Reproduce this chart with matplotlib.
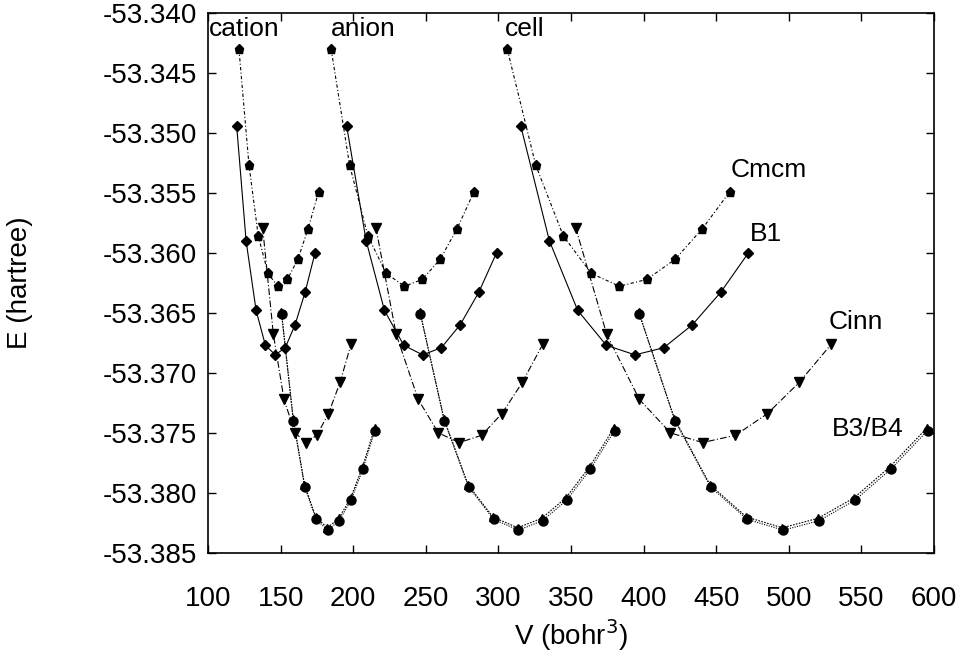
import matplotlib
matplotlib.use("Agg")
import matplotlib.pyplot as plt

plt.rcParams["font.family"] = ["Liberation Sans", "DejaVu Sans"]
plt.rcParams["axes.unicode_minus"] = False

# energies (hartree), shared by the cation / anion / cell volume sets
E_cmcm = [-53.34305, -53.35270, -53.35860, -53.36172, -53.36278, -53.36222, -53.36055, -53.35800, -53.35490]
E_b1 = [-53.3494, -53.3590, -53.3648, -53.3677, -53.3685, -53.3679, -53.3660, -53.3633, -53.3600]
E_cinn = [-53.3579, -53.3668, -53.3722, -53.3750, -53.3758, -53.3752, -53.3734, -53.3708, -53.3676]
E_b3 = [-53.3651, -53.3740, -53.3795, -53.3822, -53.3831, -53.3823, -53.3806, -53.3780, -53.3748]
E_b4 = [-53.3649, -53.3738, -53.3793, -53.3820, -53.3829, -53.3821, -53.3804, -53.3778, -53.3746]

# volumes (bohr^3)
V_cmcm = {
    "cation": [121.3, 128.2, 134.6, 141.3, 148.0, 154.6, 161.8, 168.9, 176.2],
    "anion": [184.8, 197.5, 210.1, 222.7, 235.3, 247.5, 259.8, 271.5, 283.2],
    "cell": [306.1, 325.7, 344.7, 364.0, 383.3, 402.1, 421.6, 440.4, 459.4],
}
V_b1 = {
    "cation": [119.7, 126.2, 133.1, 139.5, 146.3, 153.2, 159.9, 166.8, 173.7],
    "anion": [195.4, 208.9, 221.5, 234.8, 247.8, 260.7, 273.6, 286.4, 298.7],
    "cell": [315.3, 335.1, 354.6, 374.3, 394.1, 413.9, 433.5, 453.0, 472.2],
}
V_cinn = {
    "cation": [137.6, 145.0, 152.3, 159.9, 167.5, 174.9, 182.9, 190.9, 198.5],
    "anion": [215.6, 229.6, 244.7, 258.6, 273.1, 288.4, 302.3, 316.4, 330.6],
    "cell": [353.2, 374.6, 397.0, 418.5, 440.6, 463.2, 485.2, 507.1, 529.3],
}
V_b3 = {
    "cation": [150.7, 158.8, 166.6, 174.4, 182.4, 190.4, 198.5, 206.7, 214.9],
    "anion": [246.3, 262.8, 279.5, 296.7, 313.8, 330.4, 347.0, 363.4, 380.0],
    "cell": [397.0, 421.6, 446.1, 471.3, 496.2, 521.0, 545.6, 570.4, 595.6],
}
V_b4 = {
    "cation": [150.5, 158.6, 166.4, 174.2, 182.2, 190.2, 198.3, 206.5, 214.7],
    "anion": [245.9, 262.4, 279.0, 296.2, 313.3, 329.9, 346.5, 362.9, 379.5],
    "cell": [396.6, 421.2, 445.6, 470.8, 495.6, 520.4, 545.0, 569.8, 595.0],
}

XTICKS = [100, 150, 200, 250, 300, 350, 400, 450, 500, 550, 600]
YTICKS = [-53.385, -53.380, -53.375, -53.370, -53.365, -53.360, -53.355, -53.350, -53.345, -53.340]

FS = 20

fig = plt.figure(figsize=(9.69, 6.57), dpi=100)
ax = fig.add_axes([0.2147, 0.1583, 0.7492, 0.8224])

styles = [
    (V_cmcm, E_cmcm, dict(ls=(0, (3, 2, 1, 2)), marker="p", ms=6.5)),
    (V_b1, E_b1, dict(ls="-", marker="D", ms=5)),
    (V_cinn, E_cinn, dict(ls=(0, (6, 2, 1, 2)), marker="v", ms=6.5)),
    (V_b3, E_b3, dict(ls=(0, (1, 1.2)), marker="o", ms=6.5)),
    (V_b4, E_b4, dict(ls=(0, (1.5, 1.2)), marker="^", ms=5.5)),
]
for V, E, st in styles:
    for grp in ["cation", "anion", "cell"]:
        ax.plot(V[grp], E, color="black", lw=0.8, mec="black", mfc="black", **st)

ax.set_xlim(100, 600)
ax.set_ylim(-53.385, -53.340)
ax.set_xticks(XTICKS)
ax.set_yticks(YTICKS)
ax.set_yticklabels([f"{v:.3f}" for v in YTICKS])
ax.tick_params(direction="in", length=6, width=1, labelsize=FS, top=True, right=True)
ax.tick_params(axis="y", pad=8)
ax.tick_params(axis="x", pad=24)
for s in ax.spines.values():
    s.set_linewidth(1.2)

ax.set_xlabel("V (bohr$^3$)", fontsize=FS, va="center")
ax.set_ylabel("E (hartree)", fontsize=FS, va="center")
ax.xaxis.set_label_coords(0.5, -0.152)
ax.yaxis.set_label_coords(-0.259, 0.5)

ax.text(100.5, -53.3414, "cation", fontsize=FS - 1, va="center", ha="left")
ax.text(184.7, -53.3414, "anion", fontsize=FS - 1, va="center", ha="left")
ax.text(304.5, -53.3414, "cell", fontsize=FS - 1, va="center", ha="left")
ax.text(460.2, -53.3531, "Cmcm", fontsize=FS - 1, va="center", ha="left")
ax.text(473.3, -53.3584, "B1", fontsize=FS - 1, va="center", ha="left")
ax.text(527.7, -53.3658, "Cinn", fontsize=FS - 1, va="center", ha="left")
ax.text(529.8, -53.3747, "B3/B4", fontsize=FS - 1, va="center", ha="left")

fig.savefig("out.png", dpi=100)
